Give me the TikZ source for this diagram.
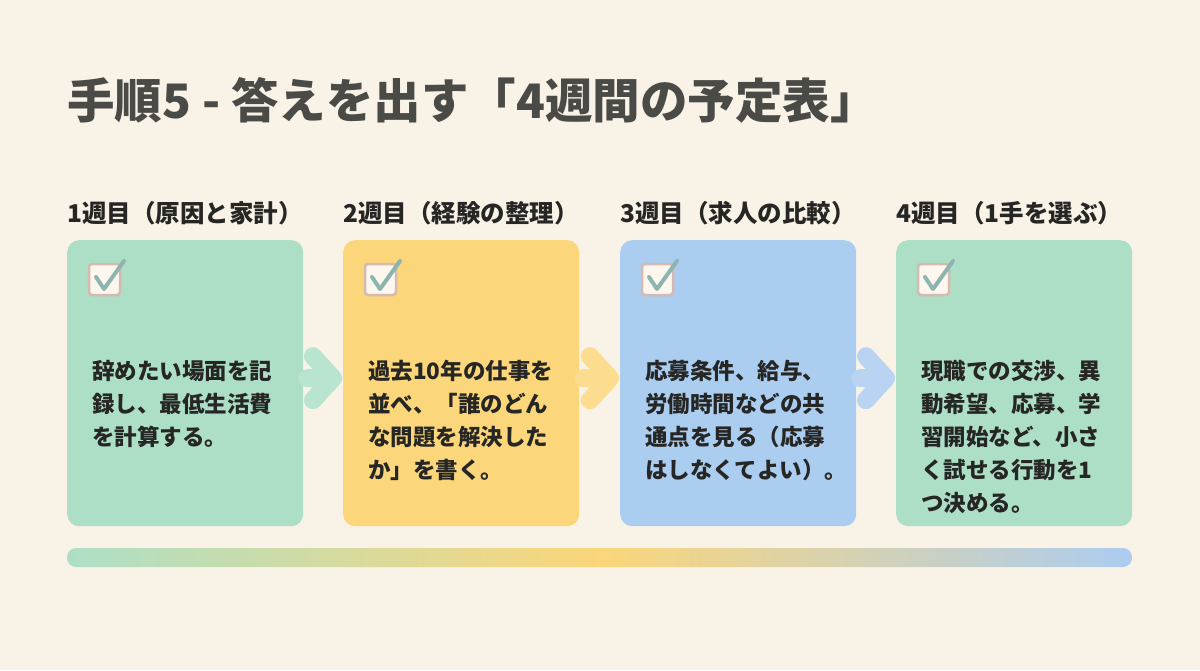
\documentclass[tikz,border=0pt]{standalone}
\usepackage{fontspec}
\setmainfont{Noto Sans CJK JP}
\usetikzlibrary{positioning, calc, arrows.meta}
\definecolor{paper}{HTML}{F9F3E7}
\definecolor{ink}{HTML}{262624}
\definecolor{titleink}{HTML}{4A4A46}
\definecolor{mint}{HTML}{ADDFC6}
\definecolor{sun}{HTML}{FBD67A}
\definecolor{sky}{HTML}{ABCDF0}
\definecolor{tickbox}{HTML}{D6B9B1}
\definecolor{tick}{HTML}{8DB4AE}

\begin{document}
\begin{tikzpicture}[x=1pt, y=-1pt]

\tikzset{
week/.style = {rectangle, rounded corners = 12pt, minimum width = 236pt,
	minimum height = 286pt, inner sep = 0pt, anchor = north west},
head/.style = {anchor = west, inner sep = 0pt, font = \fontsize{24.5}{28}\selectfont\bfseries, text = ink},
body/.style = {anchor = north west, inner sep = 0pt, align = left, text = ink,
	font = \fontsize{22.5}{33}\selectfont\bfseries},
flow/.style = {line width = 18pt, line cap = round, line join = round},
}

%% Background
\fill [paper] (0,0) rectangle (1200,670);

%% Title
\node (title) [anchor = west, inner sep = 0pt, text = titleink,
	font = \fontsize{47.5}{52}\selectfont\bfseries] at (67,100) {手順5 - 答えを出す「4週間の予定表」};

%% Weeks
\node (w1) [week, fill = mint] at (67,240) {};
\node (w2) [week, fill = sun] at (343,240) {};
\node (w3) [week, fill = sky] at (620,240) {};
\node (w4) [week, fill = mint] at (896,240) {};

\node (h1) [head] at (67,213) {1週目（原因と家計）};
\node (h2) [head] at (343,213) {2週目（経験の整理）};
\node (h3) [head] at (620,213) {3週目（求人の比較）};
\node (h4) [head] at (896,213) {4週目（1手を選ぶ）};

% Check boxes
\foreach \w in {w1, w2, w3, w4} {
	\draw [tickbox, line width = 2.5pt, fill = paper!70!white, rounded corners = 3pt]
		($(\w.north west) + (22,24)$) rectangle ++(31,31);
	\draw [tick, line width = 4pt, line cap = round, line join = round]
		($(\w.north west) + (29,37)$) -- ++(8,12) -- ++(20,-28);
}

% Texts
\node (t1) [body] at (92,360) {辞めたい場面を記\\録し、最低生活費\\を計算する。};
\node (t2) [body] at (368,360) {過去10年の仕事を\\並べ、「誰のどん\\な問題を解決した\\か」を書く。};
\node (t3) [body] at (645,360) {応募条件、給与、\\労働時間などの共\\通点を見る（応募\\はしなくてよい）。};
\node (t4) [body] at (921,360) {現職での交渉、異\\動希望、応募、学\\習開始など、小さ\\く試せる行動を1\\つ決める。};

%% Arrows
\foreach \a/\b/\c in {w1/w2/mint, w2/w3/sun, w3/w4/sky} {
	\draw [flow, \c!85!white] ($(\a.east) + (4,-5)$) -- ($(\b.west) + (-10,-5)$)
		-- ($(\b.west) + (-30,-27)$)
		($(\b.west) + (-10,-5)$) -- ($(\b.west) + (-30,17)$);
}

%% Timeline bar
\begin{scope}
	\clip [rounded corners = 9pt] (67,548) rectangle (1132,567);
	\shade [left color = mint, right color = sun] (67,548) rectangle (600,567);
	\shade [left color = sun, right color = sky] (600,548) rectangle (1132,567);
\end{scope}

\end{tikzpicture}
\end{document}
